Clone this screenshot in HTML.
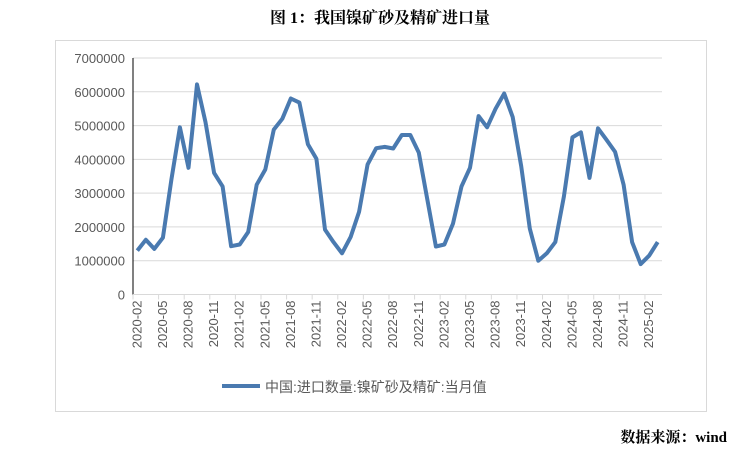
<!DOCTYPE html>
<html><head><meta charset="utf-8"><style>
body{margin:0;background:#fff;width:735px;height:452px;overflow:hidden;font-family:"Liberation Sans","Noto Sans CJK SC",sans-serif;}
</style></head><body>
<svg width="735" height="452" xmlns="http://www.w3.org/2000/svg">
<text x="380" y="23" text-anchor="middle" font-family="Liberation Serif,'Noto Serif CJK SC',serif" font-weight="bold" font-size="16" fill="#000">图 1：我国镍矿砂及精矿进口量</text>
<rect x="55.5" y="40.5" width="651" height="371" fill="none" stroke="#d9d9d9"/>
<g id="grid"></g><g id="yt"></g><g id="xt"></g>
<path id="line" fill="none" stroke="#4a7ab0" stroke-width="4" stroke-linejoin="round"/>
<line x1="222" y1="386" x2="260" y2="386" stroke="#4a7ab0" stroke-width="4"/>
<text x="265" y="392" font-size="14" fill="#595959">中国:进口数量:镍矿砂及精矿:当月值</text>
<text x="727" y="442" text-anchor="end" font-family="Liberation Serif,'Noto Serif CJK SC',serif" font-weight="bold" font-size="15" fill="#000">数据来源：wind</text>
</svg>
<script>
const values=[1.3,1.62,1.35,1.68,3.4,4.95,3.75,6.22,5.1,3.6,3.2,
1.43,1.48,1.85,3.25,3.7,4.88,5.2,5.8,5.68,4.45,4.02,1.92,
1.55,1.22,1.7,2.45,3.85,4.33,4.37,4.32,4.72,4.72,4.2,2.8,
1.42,1.48,2.1,3.2,3.75,5.28,4.95,5.5,5.95,5.25,3.8,1.95,
1.0,1.22,1.55,2.9,4.65,4.8,3.45,4.92,4.58,4.22,3.25,1.55,
0.9,1.15,1.55].map(v=>v*1e6);
const yTicks=[0,1000000,2000000,3000000,4000000,5000000,6000000,7000000];
const startYear=2020,startMonth=2;
const categories=values.map((_,i)=>{const m=startMonth-1+i;return (startYear+Math.floor(m/12))+'-'+String(m%12+1).padStart(2,'0');});
const NS='http://www.w3.org/2000/svg';
const X0=133,X1=662,Y0=294.5,Y1=58;
const bw=(X1-X0)/categories.length;
const x=i=>X0+bw*(i+0.5);
const y=v=>Y0-(v/7000000)*(Y0-Y1);
const g=document.getElementById('grid'),yt=document.getElementById('yt'),xt=document.getElementById('xt');
function mk(t,a,p){const e=document.createElementNS(NS,t);for(const k in a)e.setAttribute(k,a[k]);p.appendChild(e);return e;}
yTicks.forEach(v=>{
 if(v>0){const l=mk('line',{x1:X0,x2:X1,y1:y(v),y2:y(v),stroke:'#d9d9d9'},g);
 
 }
 const t=mk('text',{x:X0-8,y:y(v)+5,'text-anchor':'end','font-size':'13',fill:'#595959'},yt);
 t.textContent=v;
 
 
});
const ax=mk('line',{x1:X0,x2:X0,y1:Y1,y2:Y0,stroke:'#000'},g);


const bx=mk('line',{x1:X0,x2:X1,y1:Y0,y2:Y0,stroke:'#d9d9d9'},g);


categories.forEach((c,i)=>{
 if(i%3!==0)return;
 const tk=mk('line',{x1:X0+bw*i,x2:X0+bw*i,y1:Y0,y2:Y0+5,stroke:'#d9d9d9'},g);
 
 
 const t=mk('text',{transform:`translate(${x(i)+4},${Y0+6}) rotate(-90)`,'text-anchor':'end','font-size':'13',fill:'#595959'},xt);
 t.textContent=c;
 
 
});
document.getElementById('line').setAttribute('d',values.map((v,i)=>(i?'L':'M')+x(i).toFixed(1)+' '+y(v).toFixed(1)).join(''));
</script>
</body></html>
